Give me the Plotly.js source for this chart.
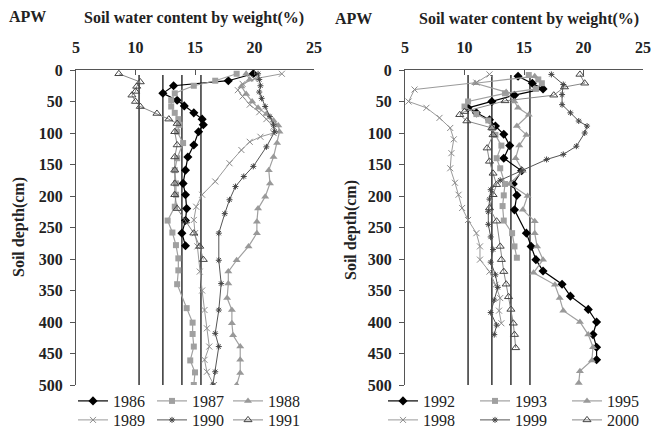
<!DOCTYPE html>
<html>
<head>
<meta charset="utf-8">
<script src="https://cdn.plot.ly/plotly-3.0.1.min.js"></script>
<style>html,body{margin:0;padding:0;background:#fff;}#chart{width:653px;height:429px;}</style>
</head>
<body>
<div id="chart"></div>
<script>
// ---- data ----
const xTicks = [5, 10, 15, 20, 25];
const yTicks = [0, 50, 100, 150, 200, 250, 300, 350, 400, 450, 500];
const refLines = [10.3, 12.3, 13.9, 15.5];
const refTop = 8;

const d1986 = [6,17,25,37,48,57,68,78,87,98,119,138,159,180,198,220,239,259,279];
const v1986 = [19.9,17.8,13.2,12.3,13.5,14.1,14.9,15.6,15.7,15.3,14.9,14.4,14.2,14.0,14.2,14.3,14.2,13.9,14.2];
const d1987 = [6,17,25,37,48,58,68,78,87,98,116,140,159,180,198,217,239,258,278,299,318,340,378,401,419,439,461,480,500];
const v1987 = [18.5,16.7,14.9,13.3,13.0,13.0,13.3,13.6,13.7,13.5,14.0,13.5,13.3,13.4,13.4,13.3,12.7,13.1,13.4,13.6,13.6,13.5,14.3,14.8,14.8,14.9,14.6,15.0,14.9];
const d1988 = [6,15,26,38,50,60,70,80,88,98,116,138,159,180,201,220,241,259,280,302,320,339,362,381,402,421,439,460,481,500];
const v1988 = [19.3,19.6,18.9,19.3,19.8,20.3,21.0,21.6,22.0,22.1,21.9,21.6,21.2,21.3,20.9,20.3,20.2,20.2,19.5,18.5,17.8,17.8,17.7,18.1,18.1,18.2,18.8,18.8,18.8,18.5];
const d1989 = [6,14,22,32,42,55,67,78,90,100,106,114,127,148,177,198,217,238,259,280,320,350,381,410,439,460,479,500];
const v1989 = [22.3,20.0,19.0,18.6,19.0,19.6,20.4,21.0,21.6,21.6,20.5,19.6,18.9,17.9,16.7,15.6,15.1,14.9,15.0,15.2,15.4,15.6,15.8,16.0,16.2,15.8,16.0,16.6];
const d1990 = [6,15,25,35,45,58,74,87,98,122,153,169,185,206,228,259,302,339,381,418,439,479,500];
const v1990 = [20.3,20.4,20.5,20.4,20.6,20.9,21.3,21.6,21.7,21.0,19.9,19.1,18.4,17.9,17.5,17.0,17.0,17.2,17.0,16.7,17.0,16.7,16.5];
const d1991 = [6,19,26,34,40,50,58,69,78,85,98,119,138,159,180,198,220,240,259,280,301];
const v1991 = [8.6,10.4,10.1,10.0,9.7,10.0,10.4,11.8,12.8,13.5,13.3,13.5,13.3,13.3,13.3,13.3,13.5,14.2,14.9,15.4,15.7];

const d1992 = [10,21,30,40,50,60,68,79,89,102,120,140,160,181,199,222,259,280,301,319,340,359,380,400,420,440,460];
const v1992 = [14.5,15.7,16.6,14.2,12.3,10.3,11.0,12.1,12.6,13.3,13.8,13.3,14.8,14.1,14.4,14.2,15.2,15.6,16.0,16.6,18.2,18.9,20.4,21.1,20.8,21.1,21.1];
const d1993 = [8,15,21,30,37,50,58,70,80,92,103,120,140,156,181,199,216,239,259,280,298];
const v1993 = [15.4,16.2,16.5,16.0,13.4,10.3,10.0,11.0,12.0,12.3,12.6,13.1,12.7,13.0,13.4,13.3,13.2,13.3,14.0,14.2,14.4];
const d1995 = [10,21,35,50,60,71,89,103,120,140,160,181,200,222,240,259,280,301,322,341,362,382,400,420,440,461,478,497];
const v1995 = [15.9,10.9,13.5,14.2,14.5,15.4,14.4,15.2,14.6,14.3,14.9,13.8,15.3,14.9,15.9,15.9,16.1,16.6,15.8,17.6,18.0,18.3,19.7,20.4,20.8,20.7,19.7,19.6];
const d1998 = [7,20,31,50,60,76,92,110,132,156,179,198,219,238,259,280,301,320,341,362,382,402];
const v1998 = [12.1,11.0,5.8,5.3,6.8,7.9,8.8,9.1,8.9,8.8,9.2,9.5,9.8,10.3,11.0,11.3,11.3,12.1,12.6,13.0,12.9,13.1];
const d1999 = [7,23,39,55,68,81,89,100,121,134,142,160,175,190,205,225,245,265,285,305,325,345,365,385,405,420];
const v1999 = [17.3,18.3,18.2,18.2,18.9,19.6,20.3,20.1,19.4,18.3,16.9,14.8,13.0,12.2,12.1,12.0,12.0,12.2,12.4,12.2,12.6,12.8,12.5,12.2,12.7,12.5];
const d2000 = [7,21,27,40,49,66,71,81,92,103,124,145,164,182,198,219,240,280,301,320,340,360,380,402,420,441];
const v2000 = [19.7,20.1,18.4,17.5,13.4,10.0,9.6,10.2,12.3,12.4,11.9,12.1,12.4,12.7,12.4,12.1,12.7,13.0,13.1,13.3,13.5,13.7,13.9,14.1,14.2,14.3];

// ---- styles ----
const S = {
  diamond: {line:{color:'#000', width:1.2}, marker:{symbol:'diamond', size:7, color:'#000'}},
  square:  {line:{color:'#a0a0a0', width:1.2}, marker:{symbol:'square', size:6, color:'#a0a0a0'}},
  tri:     {line:{color:'#a0a0a0', width:1.2}, marker:{symbol:'triangle-up', size:7, color:'#999'}},
  cross:   {line:{color:'#9a9a9a', width:1}, marker:{symbol:'x-thin', size:6, color:'#9a9a9a', line:{color:'#8a8a8a', width:1}}},
  star:    {line:{color:'#555', width:1}, marker:{symbol:'asterisk', size:5, color:'#444', line:{color:'#444', width:1}}},
  otri:    {line:{color:'#888', width:1}, marker:{symbol:'triangle-up-open', size:7, color:'#444', line:{color:'#444', width:1}}}
};

const serif = 'Liberation Serif';
const traces = [];

function addRefs(xa, ya) {
  refLines.forEach(v => traces.push({
    x:[v, v], y:[refTop, 500], xaxis:xa, yaxis:ya, mode:'lines',
    line:{color:'#333', width:1.5}, showlegend:false, hoverinfo:'skip'
  }));
}
addRefs('x', 'y');
addRefs('x2', 'y2');

const series = [
  ['1986', v1986, d1986, 'diamond', 'x', 'y', 'legend'],
  ['1987', v1987, d1987, 'square', 'x', 'y', 'legend2'],
  ['1988', v1988, d1988, 'tri', 'x', 'y', 'legend3'],
  ['1989', v1989, d1989, 'cross', 'x', 'y', 'legend4'],
  ['1990', v1990, d1990, 'star', 'x', 'y', 'legend5'],
  ['1991', v1991, d1991, 'otri', 'x', 'y', 'legend6'],
  ['1992', v1992, d1992, 'diamond', 'x2', 'y2', 'legend7'],
  ['1993', v1993, d1993, 'square', 'x2', 'y2', 'legend8'],
  ['1995', v1995, d1995, 'tri', 'x2', 'y2', 'legend9'],
  ['1998', v1998, d1998, 'cross', 'x2', 'y2', 'legend10'],
  ['1999', v1999, d1999, 'star', 'x2', 'y2', 'legend11'],
  ['2000', v2000, d2000, 'otri', 'x2', 'y2', 'legend12']
];
series.forEach(s => {
  const st = S[s[3]];
  traces.push({
    name:s[0], x:s[1], y:s[2], xaxis:s[4], yaxis:s[5], legend:s[6],
    mode:'lines+markers', line:st.line, marker:st.marker
  });
});

const W = 653, H = 429;
const px = v => v / W;
const py = v => 1 - v / H;

function xa(l, r) {
  return {
    domain:[px(l), px(r)], range:[5, 25], side:'top', tickvals:xTicks,
    showline:true, linecolor:'#555', linewidth:1, ticks:'inside', ticklen:5, tickcolor:'#555',
    showgrid:false, zeroline:false, ticklabelstandoff:10,
    tickfont:{family:serif, size:16, color:'#222', weight:'bold'}, fixedrange:true
  };
}
function ya(top, bot, anchor) {
  return {
    domain:[py(bot), py(top)], range:[500, 0], tickvals:yTicks, anchor:anchor,
    showline:true, linecolor:'#555', linewidth:1, ticks:'outside', ticklen:5, tickcolor:'#555',
    showgrid:false, zeroline:false, ticklabelstandoff:4,
    tickfont:{family:serif, size:16, color:'#222', weight:'bold'}, fixedrange:true
  };
}

const ann = (text, x, y, extra) => Object.assign({
  text:text, x:px(x), y:py(y), xref:'paper', yref:'paper', xanchor:'center', yanchor:'middle',
  showarrow:false, font:{family:serif, size:16, color:'#222', weight:'bold'}
}, extra || {});

const layout = {
  width:W, height:H, margin:{l:0, r:0, t:0, b:0, autoexpand:false},
  font:{family:serif, color:'#222'},
  paper_bgcolor:'#fff', plot_bgcolor:'rgba(0,0,0,0)',
  xaxis: Object.assign(xa(76, 314), {anchor:'y'}),
  yaxis: ya(70, 385, 'x'),
  xaxis2: Object.assign(xa(405, 643), {anchor:'y2'}),
  yaxis2: ya(70, 385, 'x2'),
  annotations:[
    ann('APW', 27, 17),
    ann('Soil water content by weight(%)', 194, 18),
    ann('APW', 353, 19),
    ann('Soil water content by weight(%)', 529, 19),
    ann('Soil depth(cm)', 19, 227, {textangle:-90}),
    ann('Soil depth(cm)', 351, 230, {textangle:-90})
  ],
  showlegend:true
};

// legend positions: [text left x, row center y]
const legPos = [[113,401],[192,401],[268,401],[113,420],[192,420],[268,420],
                [423,401],[515,401],[607,401],[423,420],[515,420],[607,420]];
legPos.forEach((p, i) => {
  const key = i === 0 ? 'legend' : 'legend' + (i + 1);
  layout[key] = {
    x:px(p[0] - 40), y:py(p[1]), xanchor:'left', yanchor:'middle',
    bgcolor:'rgba(0,0,0,0)', borderwidth:0, itemwidth:30,
    font:{family:serif, size:16, color:'#222'}
  };
});

Plotly.newPlot('chart', traces, layout, {staticPlot:true, displayModeBar:false});
</script>
</body>
</html>
